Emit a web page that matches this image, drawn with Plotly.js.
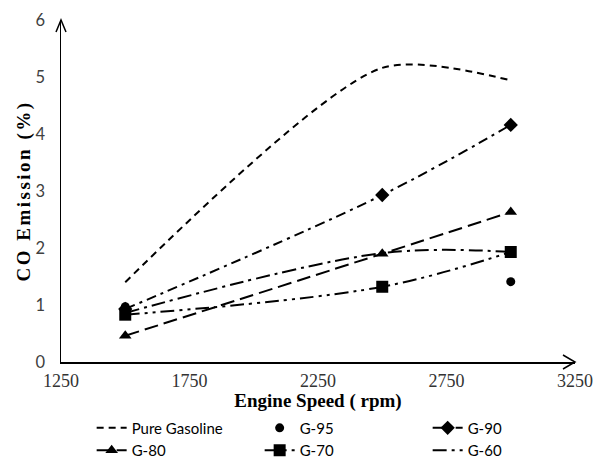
<!DOCTYPE html>
<html>
<head>
<meta charset="utf-8">
<script src="https://cdn.plot.ly/plotly-3.0.1.min.js"></script>
<style>
html,body{margin:0;padding:0;background:#fff;}
#chart{width:603px;height:463px;}
.ytitle{letter-spacing:2.5px;}
</style>
</head>
<body>
<div id="chart"></div>
<script>
const speeds = [1500, 2500, 3000];
const pureGasoline = [1.40, 5.16, 4.94];
const g95 = [0.97, null, 1.41];
const g90 = [0.93, 2.93, 4.16];
const g80 = [0.46, 1.90, 2.63];
const g70 = [0.83, 1.32, 1.93];
const g60 = [0.86, 1.91, 1.93];
const xTicks = [1250, 1750, 2250, 2750, 3250];
const yTicks = [0, 1, 2, 3, 4, 5, 6];

const traces = [
  {name: 'Pure Gasoline', x: speeds, y: pureGasoline, mode: 'lines',
   line: {color: '#000', width: 2, dash: '7px,5px', shape: 'spline', smoothing: 0.75}},
  {name: 'G-95', x: speeds, y: g95, mode: 'markers',
   marker: {symbol: 'circle', size: 9, color: '#000'}},
  {name: 'G-90', x: speeds, y: g90, mode: 'lines+markers',
   line: {color: '#000', width: 2, dash: '10px,5px,3px,5px', shape: 'spline', smoothing: 1},
   marker: {symbol: 'diamond', size: 11, color: '#000'}},
  {name: 'G-80', x: speeds, y: g80, mode: 'lines+markers',
   line: {color: '#000', width: 2, dash: '14px,6px', shape: 'spline', smoothing: 1},
   marker: {symbol: 'triangle-up', size: 11, color: '#000'}},
  {name: 'G-70', x: speeds, y: g70, mode: 'lines+markers',
   line: {color: '#000', width: 2, dash: '14px,5px,3px,5px,3px,5px', shape: 'spline', smoothing: 1},
   marker: {symbol: 'square', size: 12, color: '#000'}},
  {name: 'G-60', x: speeds, y: g60, mode: 'lines',
   line: {color: '#000', width: 2, dash: '14px,5px,3px,5px', shape: 'spline', smoothing: 1}}
];

const layout = {
  width: 603, height: 463,
  margin: {l: 61, r: 28, t: 20, b: 101, autoexpand: false},
  paper_bgcolor: '#fff', plot_bgcolor: '#fff',
  showlegend: true,
  xaxis: {
    range: [1250, 3250], tickvals: xTicks, ticktext: xTicks.map(String),
    showgrid: false, zeroline: false, showline: true, linecolor: '#000', linewidth: 1.5,
    ticks: '', ticklabelstandoff: 2, automargin: false,
    tickfont: {family: 'Liberation Serif', size: 18, color: '#333'},
    title: {text: 'Engine Speed ( rpm)', standoff: 11,
            font: {family: 'Liberation Serif', size: 19, color: '#000', weight: 'bold'}}
  },
  yaxis: {
    range: [0, 6], tickvals: yTicks, ticktext: yTicks.map(String),
    showgrid: false, zeroline: false, showline: true, linecolor: '#000', linewidth: 1.5,
    ticks: '', ticklabelstandoff: 11, automargin: false,
    tickfont: {family: 'Lato, Liberation Sans', size: 16.5, color: '#404040'},
    title: {text: 'CO Emission (%)', standoff: 0,
            font: {family: 'Liberation Serif', size: 19, color: '#000', weight: 'bold'}}
  },
  legend: {
    orientation: 'h', xref: 'container', yref: 'container',
    x: 0.152, xanchor: 'left', y: 0.111, yanchor: 'top',
    entrywidth: 123, entrywidthmode: 'pixels',
    font: {family: 'Lato, Liberation Sans, sans-serif', size: 15, color: '#000'},
    bgcolor: 'rgba(0,0,0,0)', traceorder: 'normal'
  },
  shapes: [
    {type: 'path', xref: 'paper', yref: 'paper', xsizemode: 'pixel', ysizemode: 'pixel',
     xanchor: 1, yanchor: 0, path: 'M-12,7 L0,0 L-12,-7',
     line: {color: '#000', width: 1.5}},
    {type: 'path', xref: 'paper', yref: 'paper', xsizemode: 'pixel', ysizemode: 'pixel',
     xanchor: 0, yanchor: 1, path: 'M-5,-12 L0,0 L5,-12',
     line: {color: '#000', width: 1.5}}
  ]
};

Plotly.newPlot('chart', traces, layout, {displayModeBar: false, staticPlot: true});
</script>
</body>
</html>
